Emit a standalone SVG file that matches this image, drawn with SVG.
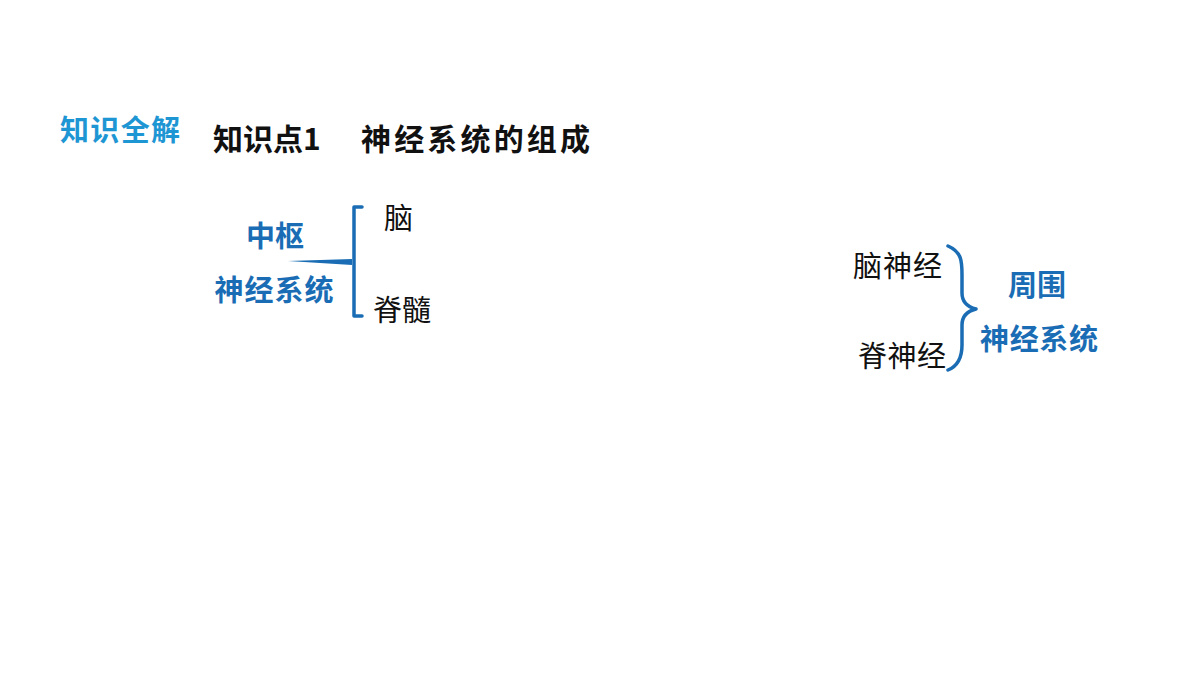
<svg xmlns="http://www.w3.org/2000/svg" width="1200" height="675" viewBox="0 0 1200 675">
<style>
.cjk{font-family:"Noto Sans CJK SC","Liberation Sans",sans-serif;}
.blue{fill:#1a6db4;font-weight:bold;}
.blk{fill:#111;}
.br{fill:none;stroke:#1a6db4;stroke-width:3.5;stroke-linecap:round;stroke-linejoin:round;}
</style>
<rect width="1200" height="675" fill="#fff"/>
<g id="header">
<text class="cjk" x="60" y="141" font-size="29" font-weight="bold" fill="#1e96d4" textLength="120" lengthAdjust="spacing">知识全解</text>
<text class="cjk blk" x="213" y="150" font-size="30" font-weight="bold">知识点1<tspan x="361" textLength="229" lengthAdjust="spacing">神经系统的组成</tspan></text>
</g>
<g id="connectors">
<path class="br" d="M362,207 L354,207 L354,316 L362,316"/>
<path d="M288,261 L352,259 L352,265 Z" fill="#1a6db4"/>
<path class="br" d="M948,246 C962,252 962,262 962,275 L962,293 C962,302 968,307 976,309 C968,311 962,316 962,325 L962,345 C962,358 958,366 948,370"/>
</g>
<g id="central">
<text class="cjk blue" x="275" y="247" font-size="29" text-anchor="middle">中枢</text>
<text class="cjk blue" x="274" y="301" font-size="29" text-anchor="middle" textLength="119" lengthAdjust="spacing">神经系统</text>
</g>
<g id="brain"><text class="cjk blk" x="384" y="229" font-size="29">脑</text></g>
<g id="spinal"><text class="cjk blk" x="373" y="321" font-size="29">脊髓</text></g>
<g id="cranial"><text class="cjk blk" x="853" y="277" font-size="29" textLength="89" lengthAdjust="spacing">脑神经</text></g>
<g id="spinalnerve"><text class="cjk blk" x="858" y="367" font-size="29" textLength="88" lengthAdjust="spacing">脊神经</text></g>
<g id="peripheral">
<text class="cjk blue" x="1037" y="296" font-size="29" text-anchor="middle">周围</text>
<text class="cjk blue" x="1039" y="350" font-size="29" text-anchor="middle" textLength="118" lengthAdjust="spacing">神经系统</text>
</g>
</svg>
